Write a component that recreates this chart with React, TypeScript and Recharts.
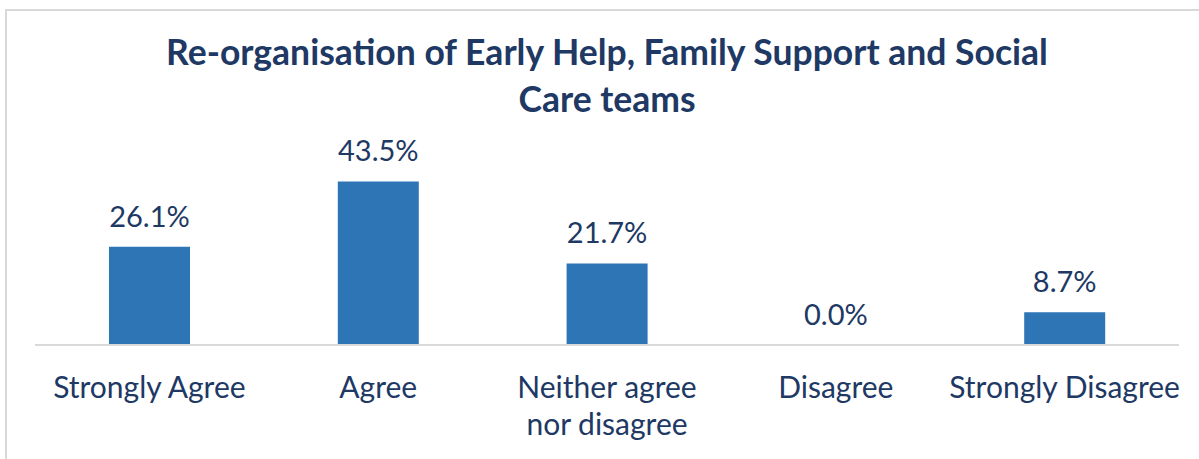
import React from "react";
import { BarChart, Bar, XAxis, YAxis, LabelList } from "recharts";

// survey responses, share of answers (%)
const categories = [
  "Strongly Agree",
  "Agree",
  "Neither agree nor disagree",
  "Disagree",
  "Strongly Disagree",
];
const percentages = [26.1, 43.5, 21.7, 0.0, 8.7];

const titleLines = [
  "Re-organisation of Early Help, Family Support and Social",
  "Care teams",
];

const NAVY = "#203864";
const BLUE = "#2E75B6";
const FONT = "Lato, 'Noto Sans', sans-serif";

const data = categories.map((name, i) => ({ name, value: percentages[i] }));

// long labels go on two lines, split at the word nearest the middle
function wrapLabel(label: string): string[] {
  if (label.length <= 18) return [label];
  const words = label.split(" ");
  let best = 1;
  let bestDiff = Infinity;
  for (let i = 1; i < words.length; i++) {
    const a = words.slice(0, i).join(" ").length;
    const b = words.slice(i).join(" ").length;
    if (Math.abs(a - b) < bestDiff) {
      bestDiff = Math.abs(a - b);
      best = i;
    }
  }
  return [words.slice(0, best).join(" "), words.slice(best).join(" ")];
}

function CategoryTick(props: any) {
  const { x, y, payload } = props;
  const lines = wrapLabel(String(payload.value));
  return (
    <text
      x={x}
      y={y + 45}
      textAnchor="middle"
      fill={NAVY}
      style={{ fontFamily: FONT, fontSize: 30 }}
    >
      {lines.map((l, i) => (
        <tspan key={i} x={x} dy={i === 0 ? 0 : 37}>
          {l}
        </tspan>
      ))}
    </text>
  );
}

export default function App() {
  return (
    <div
      style={{
        position: "absolute",
        left: 0,
        top: 0,
        width: 1199,
        height: 459,
        overflow: "hidden",
        background: "#fff",
      }}
    >
      <div
        style={{
          position: "absolute",
          left: 5,
          top: 9,
          width: 1230,
          height: 500,
          border: "2px solid #d9d9d9",
        }}
      />
      <div
        style={{
          position: "absolute",
          left: 5,
          top: 28,
          width: 1204,
          textAlign: "center",
          fontFamily: FONT,
          fontWeight: 700,
          fontSize: 35.5,
          lineHeight: "47px",
          color: NAVY,
        }}
      >
        {titleLines.map((t) => (
          <div key={t}>{t}</div>
        ))}
      </div>
      <div style={{ position: "absolute", left: 0, top: 0 }}>
        <BarChart
          width={1199}
          height={459}
          data={data}
          margin={{ top: 157, right: 20, bottom: 14, left: 35 }}
        >
          <YAxis hide domain={[0, 50]} />
          <XAxis
            dataKey="name"
            interval={0}
            height={100}
            tickLine={false}
            axisLine={{ stroke: "#d9d9d9", strokeWidth: 2 }}
            tick={<CategoryTick />}
          />
          <Bar
            dataKey="value"
            fill={BLUE}
            barSize={81}
            minPointSize={0.1}
            isAnimationActive={false}
          >
            <LabelList
              dataKey="value"
              position="top"
              offset={20}
              formatter={(v: any) => `${Number(v).toFixed(1)}%`}
              style={{ fontFamily: FONT, fontSize: 29, fill: NAVY }}
            />
          </Bar>
        </BarChart>
      </div>
    </div>
  );
}
